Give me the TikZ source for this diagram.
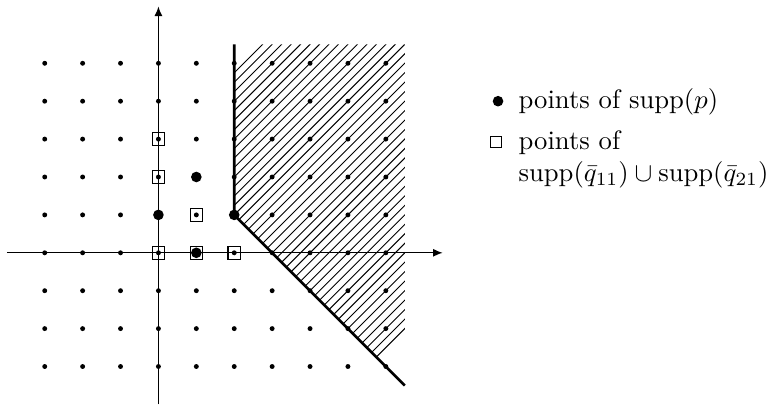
\documentclass[tikz,border=0pt]{standalone}
\usepackage{amsmath}
\usepackage{amssymb}
\usetikzlibrary{
    arrows.meta,
    positioning
}
\tikzset{
  gdot/.style   = {circle, fill=black, inner sep=0pt, minimum size=0.065cm},
  bigdot/.style = {circle, fill=black, inner sep=0pt, minimum size=0.14cm},
  sqbox/.style  = {draw, inner sep=0pt, minimum size=0.165cm, line width=0.4pt},
  hatch/.style  = {line width=0.35pt},
  axis/.style   = {-{Latex[length=3.6pt,width=3pt]}, line width=0.45pt},
  border/.style = {line width=1pt},
  legtext/.style = {anchor=base west, inner sep=0pt, font=\normalsize}
}

\begin{document}
\begin{tikzpicture}[x=0.5cm, y=0.5cm]
\useasboundingbox (-4.18,-4.02) rectangle (16.03,6.67);

% hatched region
\begin{scope}
  \clip (2,5.5) -- (2,1) -- (6.5,-3.5) -- (6.5,5.5) -- cycle;
  \foreach \i in {0,...,45}
    \draw[hatch] ({\i/4-6.75},-4) -- ({\i/4+3.25},6);
\end{scope}

% axes
\coordinate (xl) at (-4,0);  \coordinate (xr) at (7.5,0);
\coordinate (yb) at (0,-4);  \coordinate (yt) at (0,6.5);
\draw[axis] (xl) -- (xr);
\draw[axis] (yb) -- (yt);

% boundary
\coordinate (bt) at (2,5.5); \coordinate (bc) at (2,1); \coordinate (be) at (6.5,-3.5);
\draw[border] (bt) -- (bc) -- (be);

% lattice
\foreach \x in {-3,...,6}
  \foreach \y in {-3,...,5}
    \node[gdot] (g\x\y) at (\x,\y) {};

% supp(q11) u supp(q21)
\node[sqbox] (q1) at (0,3) {}; \node[sqbox] (q2) at (0,2) {};
\node[sqbox] (q3) at (1,1) {}; \node[sqbox] (q4) at (0,0) {};
\node[sqbox] (q5) at (1,0) {}; \node[sqbox] (q6) at (2,0) {};

% supp(p)
\node[bigdot] (p1) at (0,1) {}; \node[bigdot] (p2) at (1,2) {};
\node[bigdot] (p3) at (2,1) {}; \node[bigdot] (p4) at (1,0) {};

% legend
\node[bigdot] (lp) at (8.96,4.0) {};
\node[legtext] (tp) at (9.49,3.82) {points of $\mathrm{supp}(p)$};
\node[sqbox, minimum size=0.145cm] (lq) at (8.91,2.92) {};
\node[legtext, align=left] (tq) at (9.49,1.89)
  {points of\\$\mathrm{supp}(\bar{q}_{11})\cup\mathrm{supp}(\bar{q}_{21})$};
\end{tikzpicture}
\end{document}
